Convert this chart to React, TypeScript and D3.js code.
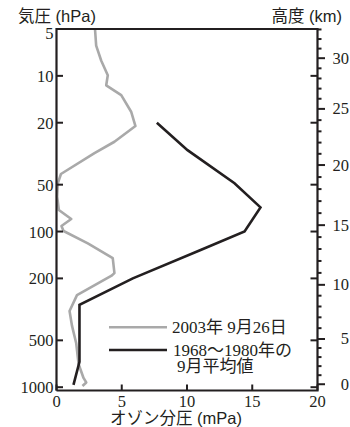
import React from "react";
import * as d3 from "d3";

// pressure (hPa) ticks on the left axis, ozone partial pressure ticks on the bottom
const pressureTicks = [5, 10, 20, 50, 100, 200, 500, 1000];
const ozoneTicks = [0, 5, 10, 15, 20];

// height axis: pressure found at each height in the sounding
const heightKm = [0, 5, 10, 15, 20, 25, 30, 32];
const heightHpa = [957, 490, 220, 91, 37.4, 16.3, 7.7, 5.8];
const heightLabels = [0, 5, 10, 15, 20, 25, 30];

// 2003-09-26 sounding
const sep2003Ozone = [2.95, 3.04, 3.43, 3.93, 3.81, 4.96, 5.72, 6.05, 4.44, 2.91, 0.34, 0.1, 0.05, 0.18, 1.13, 0.38, 0.54, 2.4, 4.31, 4.44, 4.19, 1.57, 1.0, 1.19, 1.51, 1.69, 2.07, 2.28, 1.99];
const sep2003Pressure = [5.0, 6.4, 8.0, 9.9, 11.5, 13.3, 17.0, 21.0, 26.5, 31.4, 42.7, 49.0, 59.8, 72.7, 83.1, 92.1, 99.2, 119, 148, 185, 193, 256, 324, 404, 522, 709, 872, 932, 982];

// 1968-1980 September mean
const meanOzone = [7.69, 10.04, 13.64, 15.63, 14.41, 11.09, 5.85, 1.76, 1.76, 1.3];
const meanPressure = [20, 30, 49, 70, 100, 131, 200, 296, 688, 967];

const legendLabels = ["2003年 9月26日", "1968〜1980年の", "9月平均値"];

const W = 350;
const H = 427;
const left = 56.5;
const right = 317.5;
const top = 29;
const bottom = 390.5;

const ink = "#231f20";
const grey = "#a9a9a9";
const serif = "'Liberation Serif', 'Noto Sans CJK JP', serif";
const gothic = "'Liberation Sans', 'Noto Sans CJK JP', sans-serif";

export default function App() {
  const x = d3.scaleLinear().domain([0, 20]).range([left, right]);
  const y = d3.scaleLog().domain([5, 1050]).range([top, bottom]);
  const kmToLogP = d3.scaleLinear().domain(heightKm).range(heightHpa.map(Math.log10));
  const yKm = (km: number) => y(Math.pow(10, kmToLogP(km)));

  const line = d3
    .line<[number, number]>()
    .x((d) => x(d[0]))
    .y((d) => y(d[1]));

  const obs = line(sep2003Ozone.map((v, i) => [v, sep2003Pressure[i]] as [number, number]));
  const mean = line(meanOzone.map((v, i) => [v, meanPressure[i]] as [number, number]));

  const minorKm = d3.range(0, 34).filter((k) => yKm(k) >= top && yKm(k) <= bottom);

  return (
    <div style={{ position: "absolute", left: 0, top: 0 }}>
      <svg width={W} height={H} style={{ display: "block" }}>
        <rect width={W} height={H} fill="#fff" />

        {/* axis titles */}
        <text x={18} y={22} fontFamily={gothic} fontSize={16.5} fill={ink}>
          気圧 (hPa)
        </text>
        <text x={342} y={22} textAnchor="end" fontFamily={gothic} fontSize={16.5} fill={ink}>
          高度 (km)
        </text>
        <text x={110} y={424} fontFamily={gothic} fontSize={16.5} fill={ink}>
          オゾン分圧 (mPa)
        </text>

        {/* curves */}
        <path d={obs ?? ""} fill="none" stroke={grey} strokeWidth={2.6} strokeLinejoin="round" />
        <path d={mean ?? ""} fill="none" stroke={ink} strokeWidth={2.6} strokeLinejoin="miter" />

        {/* left pressure axis */}
        {pressureTicks.map((p) => (
          <g key={"lp" + p}>
            <line x1={left} x2={left + 6.5} y1={y(p)} y2={y(p)} stroke={ink} strokeWidth={2} />
            <line x1={right} x2={right - 7} y1={y(p)} y2={y(p)} stroke={ink} strokeWidth={2} />
            <text
              x={53.5}
              y={Math.max(y(p) + 6, 39)}
              textAnchor="end"
              fontFamily={serif}
              fontSize={16.5}
              fill={ink}
            >
              {p}
            </text>
          </g>
        ))}

        {/* bottom ozone axis */}
        {ozoneTicks.map((v) => (
          <g key={"o" + v}>
            <line x1={x(v)} x2={x(v)} y1={bottom} y2={bottom - 6} stroke={ink} strokeWidth={2} />
            <text x={x(v)} y={407} textAnchor="middle" fontFamily={serif} fontSize={16.5} fill={ink}>
              {v}
            </text>
          </g>
        ))}

        {/* right height axis */}
        {minorKm.map((k) => (
          <line
            key={"km" + k}
            x1={right}
            x2={right + (k % 5 === 0 ? 7.5 : 4)}
            y1={yKm(k)}
            y2={yKm(k)}
            stroke={ink}
            strokeWidth={2}
          />
        ))}
        {heightLabels.map((k) => (
          <text key={"kl" + k} x={349} y={yKm(k) + 5.5} textAnchor="end" fontFamily={serif} fontSize={16.5} fill={ink}>
            {k}
          </text>
        ))}

        {/* frame */}
        <path
          d={`M${left},${bottom}V${top}H${right}V${bottom}H${left}`}
          fill="none"
          stroke={ink}
          strokeWidth={2.2}
        />

        {/* legend */}
        <line x1={109} x2={167} y1={327.3} y2={327.3} stroke={grey} strokeWidth={2.6} />
        <line x1={109} x2={167} y1={350} y2={350} stroke={ink} strokeWidth={2.6} />
        <text x={172} y={333} fontFamily={serif} fontSize={17} fill={ink}>
          {legendLabels[0]}
        </text>
        <text x={173} y={355.5} fontFamily={serif} fontSize={17} fill={ink}>
          {legendLabels[1]}
        </text>
        <text x={177} y={372} fontFamily={serif} fontSize={17} fill={ink}>
          {legendLabels[2]}
        </text>
      </svg>
    </div>
  );
}
